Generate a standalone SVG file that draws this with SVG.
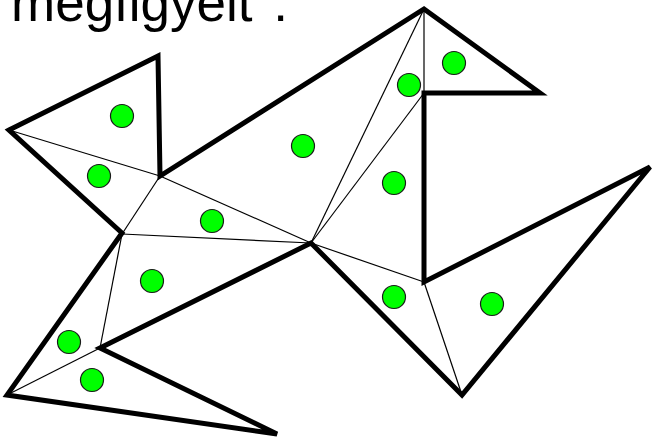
<svg xmlns="http://www.w3.org/2000/svg" width="656" height="440" viewBox="0 0 656 440">
<style>
.thin{stroke:#000;stroke-width:1.2;fill:none}
.outline{stroke:#000;stroke-width:5;fill:none;stroke-linejoin:miter}
.pt{fill:#00ff00;stroke:#1a1a1a;stroke-width:1.2}
.lbl{font-family:"Liberation Sans",Arial,sans-serif;font-size:53px;fill:#000}
</style>
<rect width="656" height="440" fill="#fff"/>
<text id="title" class="lbl" x="11" y="21">megfigyelt <tspan dx="6">:</tspan></text>
<g id="diagonals">
<line class="thin" x1="9" y1="130" x2="160" y2="176"/>
<line class="thin" x1="160" y1="176" x2="122" y2="234"/>
<line class="thin" x1="160" y1="176" x2="311" y2="243"/>
<line class="thin" x1="122" y1="234" x2="311" y2="243"/>
<line class="thin" x1="122" y1="234" x2="100" y2="348"/>
<line class="thin" x1="100" y1="348" x2="7" y2="395"/>
<line class="thin" x1="424" y1="9" x2="311" y2="243"/>
<line class="thin" x1="424" y1="93" x2="311" y2="243"/>
<line class="thin" x1="424" y1="9" x2="424" y2="93"/>
<line class="thin" x1="311" y1="243" x2="424" y2="282"/>
<line class="thin" x1="424" y1="282" x2="462" y2="395"/>
</g>
<g id="polygon">
<polygon class="outline" points="9,130 158,56 160,176 424,9 540,93 424,93 424,282 650,167 462,395 311,243 100,348 277,434 7,395 122,233"/>
</g>
<g id="points">
<circle class="pt" cx="122" cy="116" r="11.5"/>
<circle class="pt" cx="99" cy="176" r="11.5"/>
<circle class="pt" cx="212" cy="221" r="11.5"/>
<circle class="pt" cx="303" cy="146" r="11.5"/>
<circle class="pt" cx="454" cy="63" r="11.5"/>
<circle class="pt" cx="409" cy="85" r="11.5"/>
<circle class="pt" cx="394" cy="183" r="11.5"/>
<circle class="pt" cx="152" cy="281" r="11.5"/>
<circle class="pt" cx="69" cy="342" r="11.5"/>
<circle class="pt" cx="92" cy="380" r="11.5"/>
<circle class="pt" cx="394" cy="297" r="11.5"/>
<circle class="pt" cx="492" cy="304" r="11.5"/>
</g>
</svg>
